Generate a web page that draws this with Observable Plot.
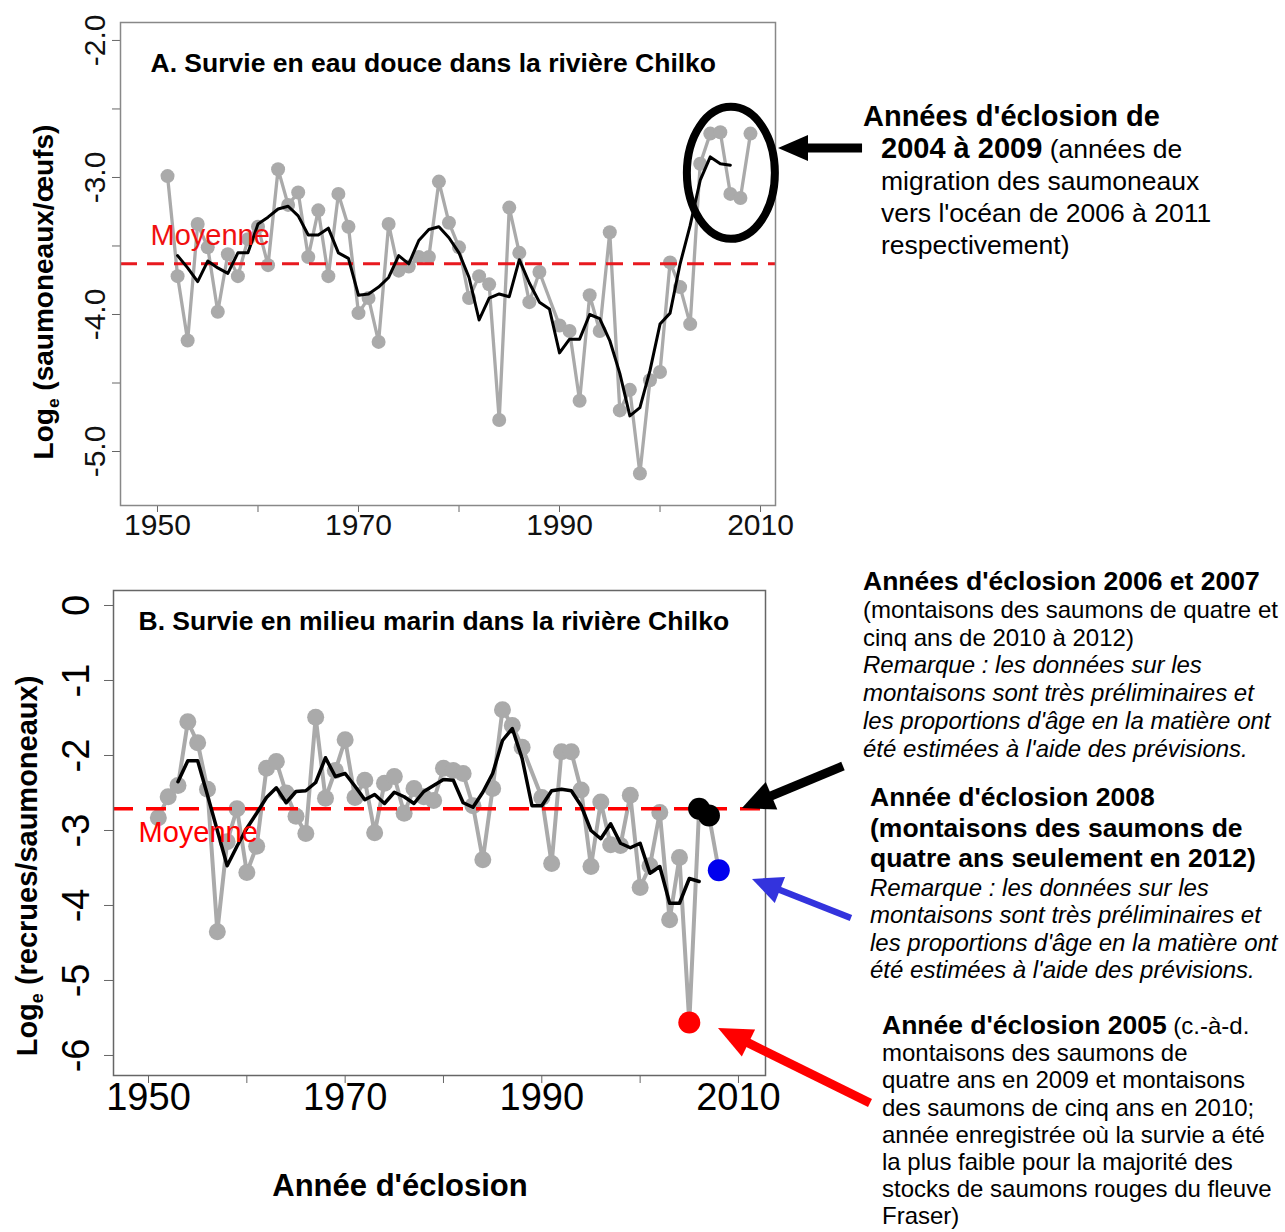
<!DOCTYPE html>
<html lang="fr">
<head>
<meta charset="utf-8">
<script src="https://cdn.jsdelivr.net/npm/d3@7"></script>
<script src="https://cdn.jsdelivr.net/npm/@observablehq/plot@0.6"></script>
<style>
html,body{margin:0;padding:0;background:#fff;}
#page{position:relative;width:1285px;height:1232px;overflow:hidden;font-family:"Liberation Sans",Arial,sans-serif;color:#000;}
.panneau{position:absolute;left:0;}
.note{position:absolute;white-space:nowrap;font-family:"Liberation Sans",Arial,sans-serif;color:#000;}
.note .l{display:block;}
.note b{font-weight:bold;}
</style>
</head>
<body>
<div id="page">
  <div id="pA" class="panneau" style="top:0px"></div>
  <div id="pB" class="panneau" style="top:560px"></div>

  <div class="note" style="left:863px;top:100px;line-height:32px;font-size:26.5px;">
    <span class="l" style="font-weight:bold;font-size:29px">Années d'éclosion de</span>
    <span class="l" style="padding-left:18px"><b style="font-size:29px">2004 à 2009</b> (années de</span>
    <span class="l" style="padding-left:18px">migration des saumoneaux</span>
    <span class="l" style="padding-left:18px">vers l'océan de 2006 à 2011</span>
    <span class="l" style="padding-left:18px">respectivement)</span>
  </div>

  <div class="note" style="left:863px;top:568px;line-height:27.8px;font-size:24px;">
    <span class="l" style="font-weight:bold;font-size:26.5px">Années d'éclosion 2006 et 2007</span>
    <span class="l">(montaisons des saumons de quatre et</span>
    <span class="l">cinq ans de 2010 à 2012)</span>
    <span class="l" style="font-style:italic">Remarque : les données sur les</span>
    <span class="l" style="font-style:italic">montaisons sont très préliminaires et</span>
    <span class="l" style="font-style:italic">les proportions d'âge en la matière ont</span>
    <span class="l" style="font-style:italic">été estimées à l'aide des prévisions.</span>
  </div>

  <div class="note" style="left:870px;top:782px;">
    <div style="line-height:30.5px;font-size:26.5px;font-weight:bold">
      <span class="l">Année d'éclosion 2008</span>
      <span class="l">(montaisons des saumons de</span>
      <span class="l">quatre ans seulement en 2012)</span>
    </div>
    <div style="line-height:27.5px;font-size:24px;font-style:italic">
      <span class="l">Remarque : les données sur les</span>
      <span class="l">montaisons sont très préliminaires et</span>
      <span class="l">les proportions d'âge en la matière ont</span>
      <span class="l">été estimées à l'aide des prévisions.</span>
    </div>
  </div>

  <div class="note" style="left:882px;top:1012px;line-height:27.2px;font-size:24px;">
    <span class="l"><b style="font-size:26.5px">Année d'éclosion 2005</b> (c.-à-d.</span>
    <span class="l">montaisons des saumons de</span>
    <span class="l">quatre ans en 2009 et montaisons</span>
    <span class="l">des saumons de cinq ans en 2010;</span>
    <span class="l">année enregistrée où la survie a été</span>
    <span class="l">la plus faible pour la majorité des</span>
    <span class="l">stocks de saumons rouges du fleuve</span>
    <span class="l">Fraser)</span>
  </div>
</div>

<script>
// ---------- Données : A. Survie en eau douce (rivière Chilko) ----------
const anneesA = [1951,1952,1953,1954,1955,1956,1957,1958,1959,1960,
  1961,1962,1963,1964,1965,1966,1967,1968,1969,1970,
  1971,1972,1973,1974,1975,1976,1977,1978,1979,1980,
  1981,1982,1983,1984,1985,1986,1987,1988,
  1990,1991,1992,1993,1994,1995,1996,1997,1998,1999,
  2000,2001,2002,2003,2004,2005,2006,2007,2008,2009];
const survieEauDouce = [-2.99,-3.72,-4.19,-3.34,-3.51,-3.98,-3.56,-3.72,-3.45,-3.36,
  -3.64,-2.94,-3.20,-3.11,-3.58,-3.24,-3.72,-3.12,-3.36,-3.99,
  -3.88,-4.20,-3.34,-3.68,-3.65,-3.58,-3.58,-3.03,-3.33,-3.51,
  -3.88,-3.72,-3.78,-4.77,-3.22,-3.55,-3.91,-3.69,
  -4.08,-4.12,-4.63,-3.86,-4.12,-3.40,-4.70,-4.55,-5.16,-4.48,
  -4.42,-3.62,-3.80,-4.07,-2.90,-2.68,-2.67,-3.12,-3.15,-2.68];
const anneesMoyA = [1952,1953,1954,1955,1956,1957,1958,1959,
  1960,1961,1962,1963,1964,1965,1966,1967,1968,1969,
  1970,1971,1972,1973,1974,1975,1976,1977,1978,1979,
  1980,1981,1982,1983,1984,1985,1986,1987,1988,1989,
  1990,1991,1992,1993,1994,1995,1996,1997,1998,1999,
  2000,2001,2002,2003,2004,2005,2006,2007];
const moyMobileA = [-3.57,-3.66,-3.76,-3.61,-3.66,-3.70,-3.55,-3.55,
  -3.34,-3.29,-3.23,-3.21,-3.28,-3.42,-3.42,-3.37,-3.55,-3.59,
  -3.86,-3.85,-3.80,-3.73,-3.57,-3.63,-3.46,-3.38,-3.36,-3.44,
  -3.55,-3.73,-4.04,-3.88,-3.85,-3.87,-3.60,-3.77,-3.91,-3.96,
  -4.28,-4.18,-4.18,-4.00,-4.03,-4.19,-4.43,-4.74,-4.68,-4.41,
  -4.07,-3.99,-3.63,-3.35,-3.02,-2.85,-2.90,-2.91];
const moyenneA = -3.63;

// ---------- Données : B. Survie en milieu marin (rivière Chilko) ----------
const anneesB = [1951,1952,1953,1954,1955,1956,1957,1958,1959,1960,
  1961,1962,1963,1964,1965,1966,1967,1968,1969,1970,
  1971,1972,1973,1974,1975,1976,1977,1978,1979,1980,
  1981,1982,1983,1984,1985,1986,1987,1988,
  1990,1991,1992,1993,1994,1995,1996,1997,1998,1999,
  2000,2001,2002,2003,2004,2005,2006,2007,2008];
const survieMarine = [-2.83,-2.55,-2.40,-1.55,-1.83,-2.45,-4.35,-3.15,-2.71,-3.56,
  -3.21,-2.17,-2.08,-2.50,-2.81,-3.04,-1.49,-2.57,-2.20,-1.79,
  -2.56,-2.33,-3.03,-2.37,-2.28,-2.77,-2.44,-2.55,-2.60,-2.17,
  -2.20,-2.24,-2.67,-3.39,-2.44,-1.39,-1.60,-1.89,
  -2.56,-3.44,-1.95,-1.95,-2.46,-3.48,-2.62,-3.19,-3.20,-2.53,
  -3.76,-3.47,-2.76,-4.19,-3.36,-5.56,-2.71,-2.80,-3.53];
const anneesMoyB = [1953,1954,1955,1956,1957,1958,1959,
  1960,1961,1962,1963,1964,1965,1966,1967,1968,1969,
  1970,1971,1972,1973,1974,1975,1976,1977,1978,1979,
  1980,1981,1982,1983,1984,1985,1986,1987,1988,1989,
  1990,1991,1992,1993,1994,1995,1996,1997,1998,1999,
  2000,2001,2002,2003,2004,2005,2006];
const moyMobileB = [-2.35,-2.07,-2.07,-2.53,-3.00,-3.47,-3.21,
  -2.97,-2.77,-2.56,-2.43,-2.63,-2.48,-2.47,-2.36,-2.03,-2.28,
  -2.24,-2.41,-2.59,-2.52,-2.64,-2.49,-2.55,-2.64,-2.48,-2.40,
  -2.32,-2.33,-2.63,-2.69,-2.49,-2.24,-1.80,-1.64,-2.04,-2.67,
  -2.67,-2.47,-2.45,-2.47,-2.67,-3.00,-3.11,-2.91,-3.17,-3.23,
  -3.17,-3.57,-3.48,-3.97,-3.97,-3.64,-3.68];
const moyenneB = -2.71;
const anneesSurlignees = [2005, 2006, 2007, 2008];

// ---------- Axes ----------
const ticksX = [1950,1960,1970,1980,1990,2000,2010];
const etiquettesX = [1950,1970,1990,2010];
const ticksYA = [-5,-4.5,-4,-3.5,-3,-2.5,-2];
const etiquettesYA = [-5,-4,-3,-2];
const ticksYB = [-6,-5,-4,-3,-2,-1,0];

const titreA = "A. Survie en eau douce dans la rivière Chilko";
const titreB = "B. Survie en milieu marin dans la rivière Chilko";
const titreX = "Année d'éclosion";

// annotations (coordonnées en unités des données)
const cercleA = {x: 2007.1, y: -2.97};
const flecheA = {x1: 2020.15, y1: -2.788, x2: 2011.79, y2: -2.788};
const flechesB = [
  {x1: 2020.68, y1: -2.147, x2: 2010.41, y2: -2.707},
  {x1: 2021.49, y1: -4.173, x2: 2011.43, y2: -3.653},
  {x1: 2023.43, y1: -6.64, x2: 2007.97, y2: -5.64}
];

// ---------- Tables ----------
const tableA = anneesA.map((a, i) => ({annee: a, valeur: survieEauDouce[i]}));
const tableMoyA = anneesMoyA.map((a, i) => ({annee: a, valeur: moyMobileA[i]}));
const tableB = anneesB.map((a, i) => ({annee: a, valeur: survieMarine[i]}));
const tableMoyB = anneesMoyB.map((a, i) => ({annee: a, valeur: moyMobileB[i]}));

const police = "Liberation Sans, Arial, sans-serif";
const couleursSurlignees = ["#ff0000", "#000000", "#000000", "#0000ee"];

function svgDe(el) { return el.tagName.toLowerCase() === "svg" ? el : el.querySelector("svg"); }

function fleche(g, sx, sy, a, couleur, epaisseur, tete, demi) {
  const x1 = sx(a.x1), y1 = sy(a.y1), x2 = sx(a.x2), y2 = sy(a.y2);
  const dx = x2 - x1, dy = y2 - y1, L = Math.hypot(dx, dy);
  const ux = dx / L, uy = dy / L, px = -uy, py = ux;
  const bx = x2 - ux * tete, by = y2 - uy * tete;
  g.append("line").attr("x1", x1).attr("y1", y1).attr("x2", bx + ux * 2).attr("y2", by + uy * 2)
    .attr("stroke", couleur).attr("stroke-width", epaisseur);
  g.append("path").attr("d", `M${x2},${y2}L${bx + px * demi},${by + py * demi}L${bx - px * demi},${by - py * demi}Z`)
    .attr("fill", couleur);
}

function etiquetteY(svg, x, y, taille, suite) {
  const t = svg.append("text")
    .attr("transform", `translate(${x},${y}) rotate(-90)`)
    .attr("text-anchor", "middle")
    .attr("font-family", police)
    .attr("font-weight", "bold").attr("font-size", taille).attr("fill", "#000");
  t.append("tspan").text("Log");
  t.append("tspan").attr("font-size", taille * 0.62).attr("dy", taille * 0.22).text("e");
  t.append("tspan").attr("dy", -taille * 0.22).text(" " + suite);
}

// ---------- Panneau A ----------
const chartA = Plot.plot({
  width: 1285, height: 545,
  marginLeft: 120, marginRight: 510, marginTop: 22, marginBottom: 40,
  x: {domain: [1946.32, 2011.49], label: null},
  y: {domain: [-5.394, -1.869], label: null},
  style: {fontFamily: police, fontSize: "30px", background: "transparent", overflow: "visible"},
  marks: [
    Plot.axisX({ticks: ticksX, tickFormat: d => etiquettesX.includes(d) ? String(d) : "",
      tickSize: 7, tickPadding: 1, fontSize: 30, stroke: "#666", fill: "#111", label: null}),
    Plot.axisY({ticks: ticksYA, tickFormat: d => etiquettesYA.includes(d) ? d.toFixed(1) : "",
      tickRotate: -90, tickSize: 8, tickPadding: 8, fontSize: 30, stroke: "#666", fill: "#111", label: null}),
    Plot.line(tableA, {x: "annee", y: "valeur", stroke: "#aaaaaa", strokeWidth: 3.3}),
    Plot.dot(tableA, {x: "annee", y: "valeur", r: 7, fill: "#aaaaaa"}),
    Plot.ruleY([moyenneA], {stroke: "#e8191f", strokeWidth: 3, strokeDasharray: "17,10"}),
    Plot.line(tableMoyA, {x: "annee", y: "valeur", stroke: "#000", strokeWidth: 3}),
    Plot.frame({stroke: "#888", strokeWidth: 1.5}),
    Plot.text([titreA], {frameAnchor: "top-left", dx: 30, dy: 41, textAnchor: "start", lineAnchor: "middle",
      fontSize: 26.5, fontWeight: "bold", fill: "#000"}),
    Plot.text([moyenneA], {y: d => d, frameAnchor: "left", dx: 30, dy: -28, text: () => "Moyenne",
      textAnchor: "start", lineAnchor: "middle", fontSize: 29, fill: "#f01010"})
  ]
});
document.getElementById("pA").appendChild(chartA);
{
  const el = svgDe(chartA);
  const svg = d3.select(el);
  const sx = v => chartA.scale("x").apply(v), sy = v => chartA.scale("y").apply(v);
  svg.append("ellipse").attr("cx", sx(cercleA.x)).attr("cy", sy(cercleA.y))
    .attr("rx", 44).attr("ry", 66).attr("fill", "none").attr("stroke", "#000").attr("stroke-width", 8);
  fleche(svg.append("g"), sx, sy, flecheA, "#000", 9, 30, 13);
  etiquetteY(svg, 53, 292, 28, "(saumoneaux/œufs)");
}

// ---------- Panneau B ----------
const chartB = Plot.plot({
  width: 1285, height: 672,
  marginLeft: 113, marginRight: 520, marginTop: 30, marginBottom: 157,
  x: {domain: [1946.44, 2012.75], label: null},
  y: {domain: [-6.267, 0.2], label: null},
  style: {fontFamily: police, fontSize: "38px", background: "transparent", overflow: "visible"},
  marks: [
    Plot.axisX({ticks: ticksX, tickFormat: d => etiquettesX.includes(d) ? String(d) : "",
      tickSize: 8, tickPadding: 0, fontSize: 38, stroke: "#666", fill: "#000", label: null}),
    Plot.axisY({ticks: ticksYB, tickFormat: d => String(d),
      tickRotate: -90, tickSize: 9, tickPadding: 16, fontSize: 38, stroke: "#666", fill: "#000", label: null}),
    Plot.line(tableB, {x: "annee", y: "valeur", stroke: "#aaaaaa", strokeWidth: 4}),
    Plot.dot(tableB, {x: "annee", y: "valeur", r: 8.5, fill: "#aaaaaa"}),
    Plot.ruleY([moyenneB], {stroke: "#ff0000", strokeWidth: 3.5, strokeDasharray: "20,13"}),
    Plot.line(tableMoyB, {x: "annee", y: "valeur", stroke: "#000", strokeWidth: 3.5}),
    ...anneesSurlignees.map((a, i) => Plot.dot(tableB.filter(d => d.annee === a),
      {x: "annee", y: "valeur", r: 11, fill: couleursSurlignees[i]})),
    Plot.frame({stroke: "#666", strokeWidth: 1.5}),
    Plot.text([titreB], {frameAnchor: "top-left", dx: 25, dy: 31, textAnchor: "start", lineAnchor: "middle",
      fontSize: 26.5, fontWeight: "bold", fill: "#000"}),
    Plot.text([moyenneB], {y: d => d, frameAnchor: "left", dx: 25, dy: 24, text: () => "Moyenne",
      textAnchor: "start", lineAnchor: "middle", fontSize: 29, fill: "#ff0000"})
  ]
});
document.getElementById("pB").appendChild(chartB);
{
  const el = svgDe(chartB);
  const svg = d3.select(el);
  const sx = v => chartB.scale("x").apply(v), sy = v => chartB.scale("y").apply(v);
  const g = svg.append("g");
  fleche(g, sx, sy, flechesB[0], "#000", 9, 32, 15);
  fleche(g, sx, sy, flechesB[1], "#3333dd", 6.5, 30, 14);
  fleche(g, sx, sy, flechesB[2], "#ff0000", 9, 34, 15);
  etiquetteY(svg, 37, 306, 29, "(recrues/saumoneaux)");
  svg.append("text").attr("x", 400).attr("y", 636).attr("text-anchor", "middle")
    .attr("font-family", police).attr("font-weight", "bold").attr("font-size", 31).attr("fill", "#000")
    .text(titreX);
}
</script>
</body>
</html>
